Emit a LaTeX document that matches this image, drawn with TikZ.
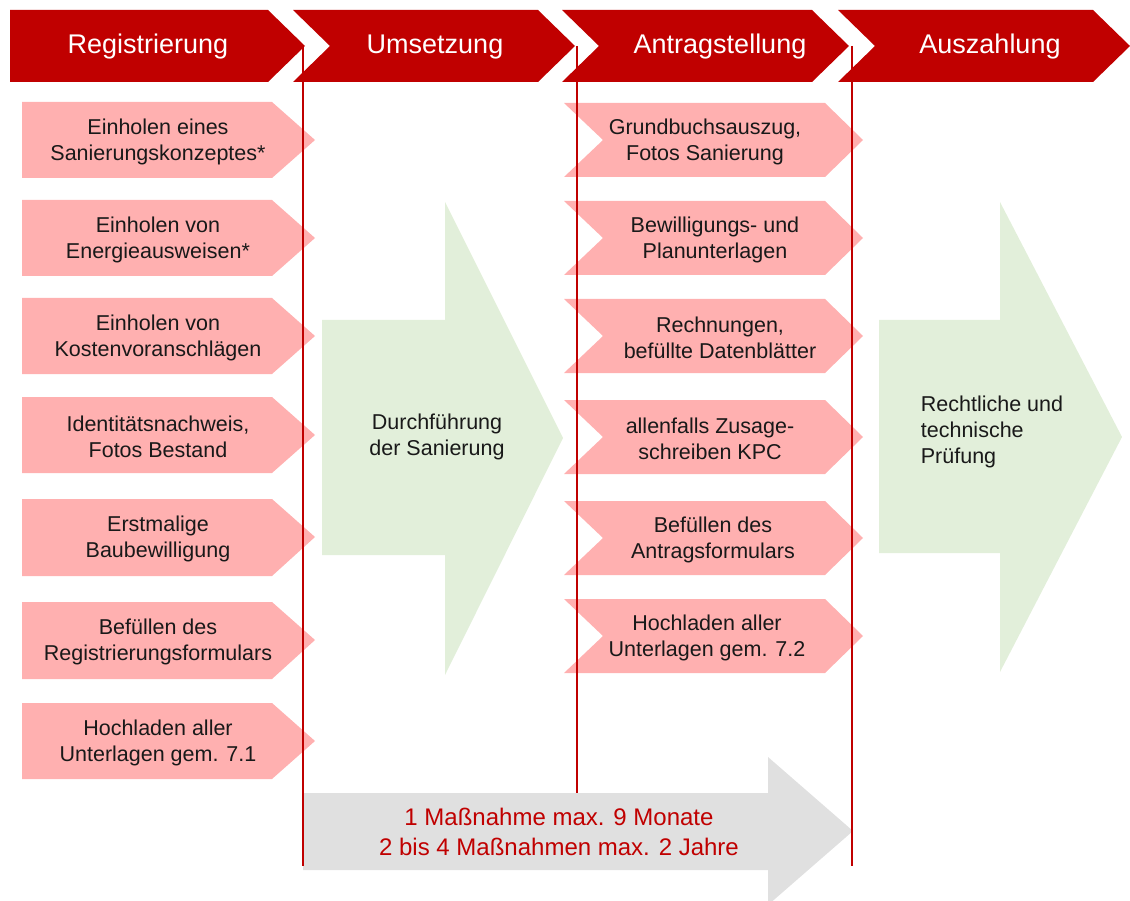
\documentclass[tikz,border=0pt]{standalone}
\usepackage{fontspec}
\setmainfont{Liberation Sans}
\usepackage{tikz}
\usetikzlibrary{positioning}
\definecolor{kpcred}{RGB}{192,0,0}
\definecolor{kpcpink}{RGB}{255,176,176}
\definecolor{kpcgreen}{RGB}{226,239,218}
\definecolor{kpcgray}{RGB}{224,224,224}
\newcommand{\phasecolor}{kpcred}
\newcommand{\taskcolor}{kpcpink}
\newcommand{\workcolor}{kpcgreen}
\newcommand{\timecolor}{kpcgray}

\begin{document}
\begin{tikzpicture}[
      % GLOBAL CFG
      x=1pt, y=-1pt,
      font=\fontsize{21.5}{26}\selectfont,
      % Styles
      phase/.style={% For the four phases
        fill=\phasecolor
      },
      phaselabel/.style={% Text in the phases
        text=white,
        font=\fontsize{27}{32}\selectfont
      },
      task/.style={% For the single steps
        fill=\taskcolor
      },
      tasklabel/.style={% Text in the steps
        align=center,
        text=black!90,
        inner sep=0pt,
        yshift=-2pt
      },
      work/.style={% For the big arrows
        fill=\workcolor
      },
      timebar/.style={% Arrow for the duration
        fill=\timecolor
      },
      timelabel/.style={
        align=center,
        text=\phasecolor,
        font=\fontsize{24}{30}\selectfont
      },
      border/.style={% Lines between the phases
        draw=\phasecolor,
        line width=1.3pt
      }
      ]
      \useasboundingbox (0,0) rectangle (1130,901);
      \clip (0,0) rectangle (1130,901);

      % Start drawing the thing...
      % The phases on top:
      \fill [phase] (10,10) -- (268,10) -- (305,46) -- (268,82) -- (10,82) -- cycle;
      \fill [phase] (293,10) -- (538,10) -- (575,46) -- (538,82) -- (293,82) -- (330,46) -- cycle;
      \fill [phase] (562,10) -- (812,10) -- (849,46) -- (812,82) -- (562,82) -- (599,46) -- cycle;
      \fill [phase] (838,10) -- (1093,10) -- (1130,46) -- (1093,82) -- (838,82) -- (875,46) -- cycle;

      \node [phaselabel] (registrierung) at (148,47){Registrierung} ;
      \node [phaselabel] (umsetzung) at (435,47){Umsetzung} ;
      \node [phaselabel] (antragstellung) at (720,47){Antragstellung} ;
      \node [phaselabel] (auszahlung) at (990,47){Auszahlung} ;

      % Steps of the registration:
      \fill [task] (22,102) -- (272,102) -- (315,140) -- (272,178) -- (22,178) -- cycle;
      \fill [task] (22,200) -- (272,200) -- (315,238) -- (272,276) -- (22,276) -- cycle;
      \fill [task] (22,298) -- (272,298) -- (315,336) -- (272,374) -- (22,374) -- cycle;
      \fill [task] (22,397) -- (272,397) -- (315,435) -- (272,473) -- (22,473) -- cycle;
      \fill [task] (22,499) -- (272,499) -- (315,537) -- (272,576) -- (22,576) -- cycle;
      \fill [task] (22,602) -- (272,602) -- (315,640) -- (272,679) -- (22,679) -- cycle;
      \fill [task] (22,703) -- (272,703) -- (315,741) -- (272,779) -- (22,779) -- cycle;

      \node [tasklabel] (reg1) at (158,140){Einholen eines\\Sanierungskonzeptes*} ;
      \node [tasklabel] (reg2) at (158,238){Einholen von\\Energieausweisen*} ;
      \node [tasklabel] (reg3) at (158,336){Einholen von\\Kostenvoranschlägen} ;
      \node [tasklabel] (reg4) at (158,435){Identitätsnachweis,\\Fotos Bestand} ;
      \node [tasklabel] (reg5) at (158,537){Erstmalige\\Baubewilligung} ;
      \node [tasklabel] (reg6) at (158,640){Befüllen des\\Registrierungsformulars} ;
      \node [tasklabel] (reg7) at (158,741){Hochladen aller\\Unterlagen gem. 7.1} ;

      % Steps of the application:
      \fill [task] (564,103) -- (825,103) -- (863,140) -- (825,177) -- (564,177) -- (603,140) -- cycle;
      \fill [task] (564,201) -- (825,201) -- (863,238) -- (825,275) -- (564,275) -- (603,238) -- cycle;
      \fill [task] (564,299) -- (825,299) -- (863,336) -- (825,373) -- (564,373) -- (603,336) -- cycle;
      \fill [task] (564,400) -- (825,400) -- (863,437) -- (825,474) -- (564,474) -- (603,437) -- cycle;
      \fill [task] (564,501) -- (825,501) -- (863,538) -- (825,575) -- (564,575) -- (603,538) -- cycle;
      \fill [task] (564,599) -- (825,599) -- (863,636) -- (825,673) -- (564,673) -- (603,636) -- cycle;

      \node [tasklabel] (antrag1) at (705,140){Grundbuchsauszug,\\Fotos Sanierung} ;
      \node [tasklabel] (antrag2) at (715,238){Bewilligungs- und\\Planunterlagen} ;
      \node [tasklabel] (antrag3) at (720,336){Rechnungen,\\befüllte Datenblätter} ;
      \node [tasklabel] (antrag4) at (710,437){allenfalls Zusage-\\schreiben KPC} ;
      \node [tasklabel] (antrag5) at (713,538){Befüllen des\\Antragsformulars} ;
      \node [tasklabel] (antrag6) at (707,636){Hochladen aller\\Unterlagen gem. 7.2} ;

      % The big green arrows:
      \fill [work] (322,320) -- (445,320) -- (445,202) -- (563,438) -- (445,675) -- (445,555) -- (322,555) -- cycle;
      \fill [work] (879,320) -- (1000,320) -- (1000,202) -- (1122,437) -- (1000,672) -- (1000,553) -- (879,553) -- cycle;

      \node [tasklabel] (durchfuehrung) at (437,435){Durchführung\\der Sanierung} ;
      \node [tasklabel, align=left] (pruefung) at (992,430){Rechtliche und\\technische\\Prüfung} ;

      % Duration:
      \fill [timebar] (303,793) -- (768,793) -- (768,757) -- (853,831) -- (768,905) -- (768,870) -- (303,870) -- cycle;
      \node [timelabel] (dauer) at (559,832){1 Maßnahme max. 9 Monate\\2 bis 4 Maßnahmen max. 2 Jahre} ;

      % Lines between the phases:
      \coordinate (top1) at (303,46);
      \coordinate (top2) at (577,46);
      \coordinate (top3) at (852,46);
      \coordinate (bottom1) at (303,866);
      \coordinate (bottom2) at (577,793);
      \coordinate (bottom3) at (852,866);
      \draw [border] (top1) -- (bottom1);
      \draw [border] (top2) -- (bottom2);
      \draw [border] (top3) -- (bottom3);
    \end{tikzpicture}
\end{document}
